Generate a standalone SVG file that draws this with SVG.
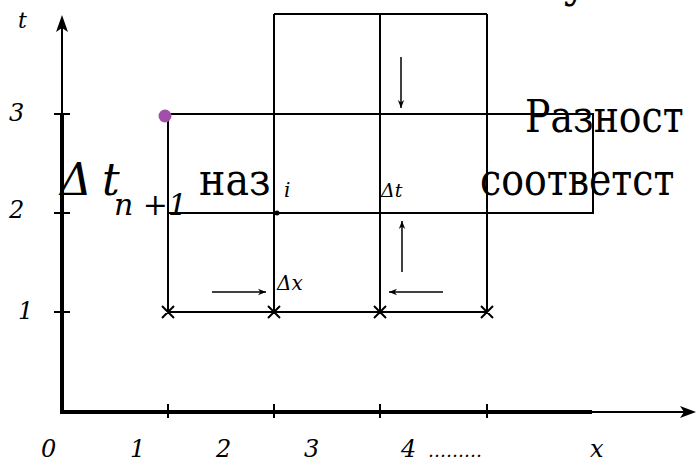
<svg xmlns="http://www.w3.org/2000/svg" width="696" height="462" viewBox="0 0 696 462">
<defs>
<marker id="ah" viewBox="0 0 10 10" refX="10" refY="5" markerWidth="8" markerHeight="8" markerUnits="userSpaceOnUse" orient="auto">
<path d="M0,1 L10,5 L0,9 L3,5 Z" fill="#000"/>
</marker>
</defs>
<style>
.g{stroke:#000;stroke-width:2;fill:none}
.ax{stroke:#000;stroke-width:4;fill:none}
.ar{stroke:#000;stroke-width:1.5;fill:none;marker-end:url(#ah)}
.lab{font-family:'DejaVu Serif','Liberation Serif',serif;font-style:italic;fill:#000}
.ru{font-family:'DejaVu Serif','Liberation Serif',serif;fill:#000;font-size:44px}
</style>
<g id="axes">
<path class="ax" d="M62,412 L62,114"/>
<path class="g" d="M62,114 L62,28"/>
<path d="M62,15 L56,32 L62,28 L68,32 Z" fill="#000"/>
<path class="ax" d="M60,412 L592,412"/>
<path class="g" d="M592,412 L684,412"/>
<path d="M696,412 L680,406 L684,412 L680,418 Z" fill="#000"/>
<path class="g" d="M54,114 H70 M54,213 H70 M54,312 H70"/>
<path class="g" d="M168,404 V418 M274,404 V418 M380,404 V418 M487,404 V418"/>
</g>
<g id="grid">
<path class="g" d="M168,114 V312 M274,14 V312 M380,14 V312 M487,14 V312 M274,14 H487 M168,114 H593 V213 H168 M168,312 H487"/>
<path class="g" d="M162,306 L174,318 M174,306 L162,318 M268,306 L280,318 M280,306 L268,318 M374,306 L386,318 M386,306 L374,318 M481,306 L493,318 M493,306 L481,318"/>
</g>
<g id="points">
<circle cx="165" cy="116" r="6.5" fill="#a050a8"/>
<circle cx="277" cy="213" r="2.5" fill="#000"/>
</g>
<g id="connectors">
<path class="ar" d="M401,57 L401,108"/>
<path class="ar" d="M402,272 L402,221"/>
<path class="ar" d="M212,292 L266,292"/>
<path class="ar" d="M443,292 L389,292"/>
</g>
<g id="labels">
<text class="lab" x="18" y="28" font-size="22">t</text>
<text class="lab" x="9" y="121" font-size="24">3</text>
<text class="lab" x="9" y="218" font-size="24">2</text>
<text class="lab" x="18" y="319" font-size="24">1</text>
<text class="lab" x="41" y="457" font-size="24">0</text>
<text class="lab" x="130" y="457" font-size="24">1</text>
<text class="lab" x="216" y="457" font-size="24">2</text>
<text class="lab" x="304" y="457" font-size="24">3</text>
<text class="lab" x="401" y="457" font-size="24">4</text>
<text class="lab" x="428" y="457" font-size="18">………</text>
<text class="lab" x="590" y="457" font-size="24">x</text>
<text class="lab" x="277" y="290" font-size="20">Δx</text>
<text class="lab" x="381" y="197" font-size="19">Δt</text>
<text class="lab" x="284" y="197" font-size="20">i</text>
<text class="lab" x="60" y="195" font-size="44">Δ</text>
<text class="lab" x="102" y="195" font-size="44">t</text>
<text class="lab" x="114" y="215" font-size="30">n <tspan font-style="normal">+</tspan>1</text>
<text class="ru" transform="translate(199,195) scale(0.9,1)">наз</text>
<text class="ru" transform="translate(525,132) scale(0.86,1)">Разност</text>
<text class="ru" transform="translate(480,195) scale(0.86,1)">соответст</text>
<text class="ru" x="563" y="-3">у</text>
</g>
</svg>
